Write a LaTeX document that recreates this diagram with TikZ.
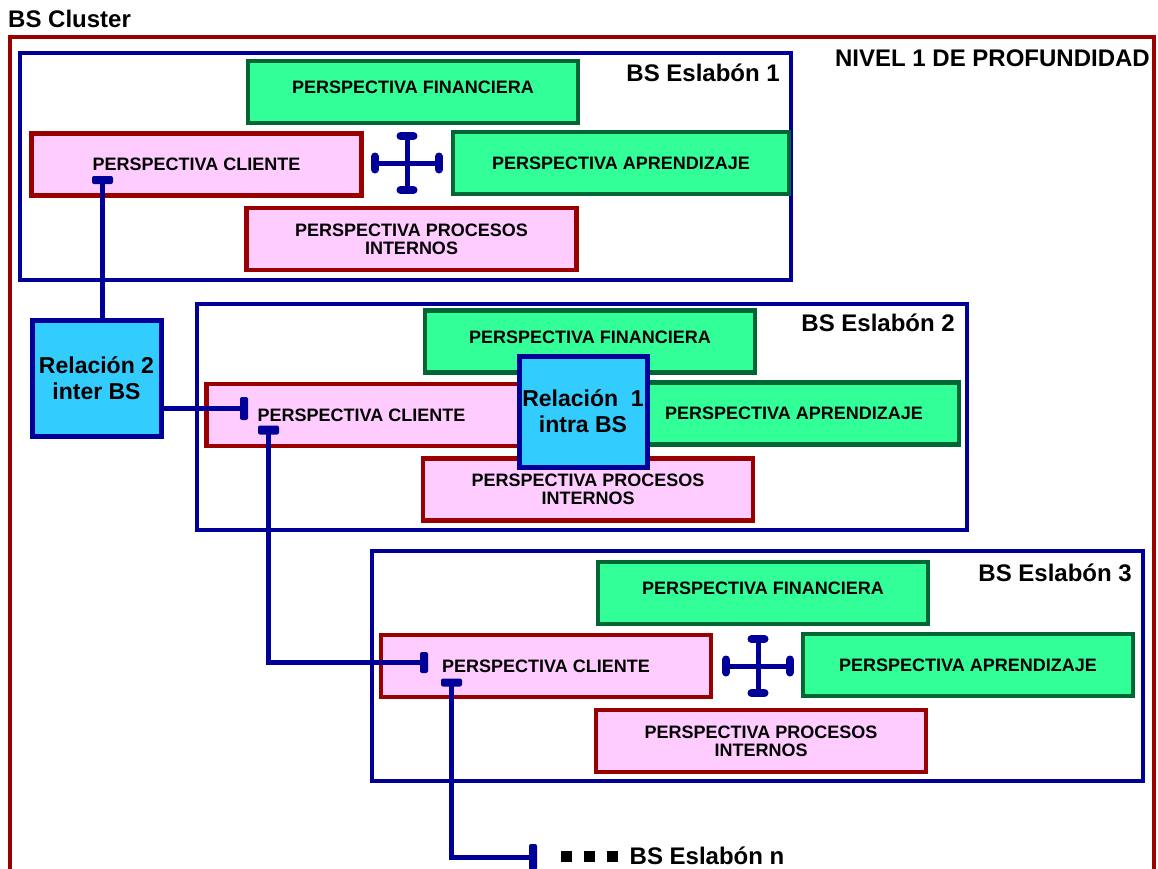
\documentclass[tikz,border=0pt]{standalone}
\usepackage{fontspec}
\setmainfont{Liberation Sans}
\usetikzlibrary{positioning}

\definecolor{rojo}{RGB}{153,0,0}
\definecolor{rosa}{RGB}{255,204,255}
\definecolor{verde}{RGB}{51,255,153}
\definecolor{verdeosc}{RGB}{0,102,51}
\definecolor{azul}{RGB}{0,0,153}
\definecolor{celeste}{RGB}{51,204,255}

\tikzset{
	cluster/.style={draw=rojo, line width=4.5pt, outer sep=0pt},
	eslabon/.style={draw=azul, line width=4pt, outer sep=0pt},
	persp/.style={line width=4.5pt, minimum width=330pt, minimum height=62pt, inner sep=0pt, align=center, font=\bfseries\fontsize{18}{18}\selectfont},
	pverde/.style={persp, draw=verdeosc, fill=verde},
	prosa/.style={persp, draw=rojo, fill=rosa},
	pfin/.style={pverde, text depth=9pt},
	relacion/.style={draw=azul, fill=celeste, line width=5pt, inner sep=0pt, align=center, font=\bfseries\fontsize{23}{26}\selectfont},
	titulo/.style={inner sep=0pt, font=\bfseries\fontsize{24}{26}\selectfont},
	link/.style={draw=azul, line width=5pt},
	tope/.style={draw=azul, line width=8pt, line cap=round},
	stub/.style={fill=azul, rounded corners=2pt, inner sep=0pt},
	cuadro/.style={fill=black, minimum size=11pt, inner sep=0pt}
}

\begin{document}
\begin{tikzpicture}[x=1pt, y=-1pt]
	\useasboundingbox (0,0) rectangle (1158,868);
	\node[cluster, minimum width=1144pt, minimum height=900pt] (cluster) at (582,487) {};
	\node[titulo, anchor=base west] (tcluster) at (8,27) {BS Cluster};
	\node[titulo, anchor=base east] (nivel) at ([xshift=-4pt, yshift=-29.5pt]cluster.north east) {NIVEL 1 DE PROFUNDIDAD};

	\node[eslabon, minimum width=771pt, minimum height=227pt] (e1) at (405.5,166.5) {};
	\node[titulo, anchor=base east] (te1) at ([xshift=-11pt, yshift=-28.5pt]e1.north east) {BS Eslabón 1};
	\node[pfin] (fin1) at (413,92) {PERSPECTIVA FINANCIERA};
	\node[prosa] (cli1) at (196.5,164.5) {PERSPECTIVA CLIENTE};
	\node[pverde, minimum width=336pt] (apr1) at (621,163) {PERSPECTIVA APRENDIZAJE};
	\node[prosa] (pro1) at (411.5,239) {PERSPECTIVA PROCESOS\\INTERNOS};

	\node[eslabon, minimum width=770pt, minimum height=226pt] (e2) at (582,417) {};
	\node[titulo, anchor=base east] (te2) at ([xshift=-12pt, yshift=-27.5pt]e2.north east) {BS Eslabón 2};
	\node[pfin] (fin2) at (590,341.5) {PERSPECTIVA FINANCIERA};
	\node[prosa] (cli2) at (371.5,415) {\hspace*{-20pt}PERSPECTIVA CLIENTE};
	\node[pverde] (apr2) at (794,413.5) {PERSPECTIVA APRENDIZAJE};
	\node[prosa] (pro2) at (588,489.5) {PERSPECTIVA PROCESOS\\INTERNOS};
	\node[relacion, minimum width=128pt, minimum height=111pt] (rel1) at (583,411.5) {Relación~~1\\intra BS};

	\node[eslabon, minimum width=771pt, minimum height=230pt] (e3) at (757.5,666) {};
	\node[titulo, anchor=base east] (te3) at ([xshift=-11pt, yshift=-30.5pt]e3.north east) {BS Eslabón 3};
	\node[pfin] (fin3) at (763,593) {PERSPECTIVA FINANCIERA};
	\node[prosa] (cli3) at (546,666) {PERSPECTIVA CLIENTE};
	\node[pverde] (apr3) at (968,665) {PERSPECTIVA APRENDIZAJE};
	\node[prosa] (pro3) at (761,741) {PERSPECTIVA PROCESOS\\INTERNOS};

	\begin{scope}[shift={(407,163)}]
		\draw[link] (0,-28) -- (0,28);
		\draw[link] (-32,0) -- (32,0);
		\draw[tope] (-6.5,-27) -- (6.5,-27);
		\draw[tope] (-6.5,27) -- (6.5,27);
		\draw[tope] (-32,-6.5) -- (-32,6.5);
		\draw[tope] (32,-6.5) -- (32,6.5);
	\end{scope}
	\begin{scope}[shift={(758,666)}]
		\draw[link] (0,-28) -- (0,28);
		\draw[link] (-32,0) -- (32,0);
		\draw[tope] (-6.5,-27) -- (6.5,-27);
		\draw[tope] (-6.5,27) -- (6.5,27);
		\draw[tope] (-32,-6.5) -- (-32,6.5);
		\draw[tope] (32,-6.5) -- (32,6.5);
	\end{scope}

	\node[relacion, minimum width=129pt, minimum height=116pt] (rel2) at (96.5,378) {Relación 2\\inter BS};

	\node[stub, minimum width=21pt, minimum height=8pt] (s1) at (102.5,180) {};
	\node[stub, minimum width=8pt, minimum height=23pt] (s2) at (244,408.5) {};
	\node[stub, minimum width=21pt, minimum height=9pt] (s3) at (268.5,430) {};
	\node[stub, minimum width=8pt, minimum height=21pt] (s4) at (424,662.5) {};
	\node[stub, minimum width=21pt, minimum height=8pt] (s5) at (451.5,682.5) {};
	\node[stub, minimum width=8pt, minimum height=26pt] (s6) at (533,857) {};

	\draw[link] (s1.center) -- (s1.center |- rel2.north);
	\draw[link] (rel2.east |- s2.center) -- (s2.center);
	\draw[link] (s3.center) |- (s4.center);
	\draw[link] (s5.center) |- (s6.center);

	\node[cuadro] (d1) at (566,856) {};
	\node[cuadro, right=12pt of d1] (d2) {};
	\node[cuadro, right=12pt of d2] (d3) {};
	\node[titulo, right=11pt of d3] (ten) {BS Eslabón n};
\end{tikzpicture}
\end{document}
